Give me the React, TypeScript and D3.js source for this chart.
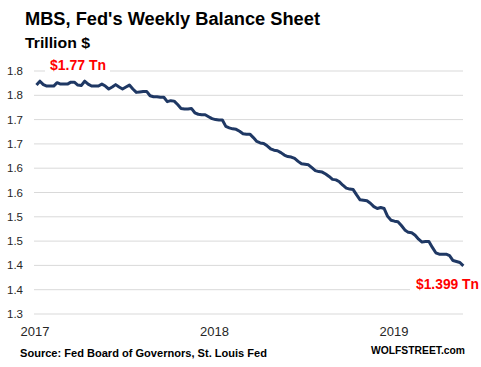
import React from "react";
import * as d3 from "d3";

// weekly MBS holdings, trillion $, first Wednesday of 2017 onwards
const firstWeek = new Date(2017, 0, 4);
const mbs = [
  1.771, 1.779, 1.772, 1.769, 1.769, 1.769, 1.776, 1.773, 1.773, 1.773,
  1.777, 1.777, 1.771, 1.770, 1.779, 1.773, 1.769, 1.769, 1.769, 1.773,
  1.769, 1.763, 1.767, 1.772, 1.767, 1.763, 1.767, 1.771, 1.763, 1.756,
  1.757, 1.758, 1.758, 1.749, 1.747, 1.747, 1.746, 1.746, 1.737, 1.739,
  1.738, 1.731, 1.723, 1.722, 1.722, 1.723, 1.714, 1.711, 1.710, 1.710,
  1.706, 1.702, 1.700, 1.699, 1.699, 1.686, 1.683, 1.681, 1.680, 1.676,
  1.671, 1.670, 1.670, 1.663, 1.655, 1.652, 1.651, 1.646, 1.640, 1.637,
  1.636, 1.632, 1.627, 1.624, 1.623, 1.620, 1.614, 1.609, 1.608, 1.607,
  1.601, 1.595, 1.593, 1.592, 1.588, 1.583, 1.577, 1.576, 1.572, 1.565,
  1.559, 1.557, 1.556, 1.545, 1.535, 1.534, 1.533, 1.528, 1.521, 1.517,
  1.519, 1.517, 1.501, 1.493, 1.491, 1.490, 1.482, 1.473, 1.468, 1.467,
  1.462, 1.454, 1.448, 1.449, 1.449, 1.437, 1.426, 1.423, 1.423, 1.423,
  1.420, 1.410, 1.408, 1.406, 1.399,
];

const yTicks = [1.3, 1.35, 1.4, 1.45, 1.5, 1.55, 1.6, 1.65, 1.7, 1.75, 1.8];
const yTickLabels = ["1.3", "1.4", "1.4", "1.5", "1.5", "1.6", "1.6", "1.7", "1.7", "1.8", "1.8"];
const years = [2017, 2018, 2019];

const W = 481;
const H = 367;
const font = "'Liberation Sans', Arial, sans-serif";

export default function App() {
  const series = mbs.map((v, i) => ({ date: d3.timeDay.offset(firstWeek, i * 7), value: v }));

  const x = d3
    .scaleTime()
    .domain([new Date(2017, 0, 1), new Date(2019, 0, 1)])
    .range([35, 394]);
  const y = d3.scaleLinear().domain([1.3, 1.8]).range([314, 71]);

  const line = d3
    .line<{ date: Date; value: number }>()
    .x(d => x(d.date))
    .y(d => y(d.value));

  const last = series[series.length - 1];

  return (
    <svg
      width={W}
      height={H}
      style={{ position: "absolute", left: 0, top: 0, background: "#fff" }}
      fontFamily={font}
    >
      <text x={25} y={25} fontSize={17.5} fontWeight="bold" fill="#000" textLength={295} lengthAdjust="spacingAndGlyphs">
        MBS, Fed's Weekly Balance Sheet
      </text>
      <text x={25} y={48} fontSize={14.5} fontWeight="bold" fill="#000" textLength={65} lengthAdjust="spacingAndGlyphs">
        Trillion $
      </text>

      {/* gridlines + labels */}
      {yTicks.map((t, i) => (
        <g key={t}>
          <line x1={34} x2={463} y1={y(t)} y2={y(t)} stroke="#d9d9d9" strokeWidth={1} />
          <text x={23} y={y(t)} dy="0.35em" textAnchor="end" fontSize={11.5} fill="#262626">
            {yTickLabels[i]}
          </text>
        </g>
      ))}

      {years.map(yr => (
        <text key={yr} x={x(new Date(yr, 0, 1))} y={336} textAnchor="middle" fontSize={13} fill="#262626">
          {yr}
        </text>
      ))}

      <path d={line(series) ?? ""} fill="none" stroke="#1f3864" strokeWidth={3} strokeLinejoin="round" />

      {/* annotations */}
      <rect x={45} y={58} width={65} height={14} fill="#fff" />
      <text x={50} y={70} fontSize={14} fontWeight="bold" fill="#ff0000" textLength={56} lengthAdjust="spacingAndGlyphs">
        $1.77 Tn
      </text>
      <rect x={410} y={277} width={71} height={14} fill="#fff" />
      <text x={416} y={y(last.value) + 23} fontSize={14} fontWeight="bold" fill="#ff0000" textLength={63} lengthAdjust="spacingAndGlyphs">
        $1.399 Tn
      </text>

      <text x={20} y={357} fontSize={11.5} fontWeight="bold" fill="#000" textLength={247} lengthAdjust="spacingAndGlyphs">
        Source: Fed Board of Governors, St. Louis Fed
      </text>
      <text x={371} y={354} fontSize={11} fontWeight="bold" fill="#000" textLength={94} lengthAdjust="spacingAndGlyphs">
        WOLFSTREET.com
      </text>
    </svg>
  );
}
